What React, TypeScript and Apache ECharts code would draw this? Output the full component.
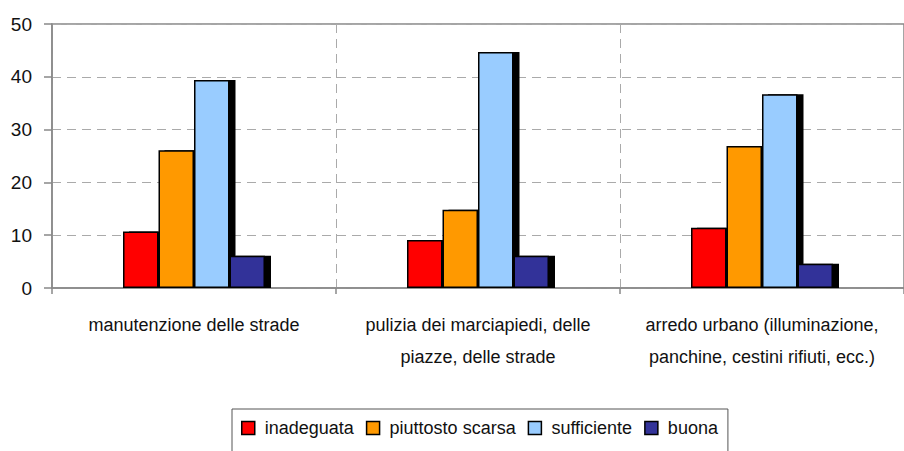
import React, { useEffect, useRef } from "react";
import * as echarts from "echarts";

const categories = [
  "manutenzione delle strade",
  "pulizia dei marciapiedi, delle\npiazze, delle strade",
  "arredo urbano (illuminazione,\npanchine, cestini rifiuti, ecc.)",
];
const seriesNames = ["inadeguata", "piuttosto scarsa", "sufficiente", "buona"];
const inadeguata = [10.7, 9.1, 11.4];
const piuttostoScarsa = [26.1, 14.8, 26.9];
const sufficiente = [39.4, 44.7, 36.7];
const buona = [6.1, 6.1, 4.6];
const seriesColors = ["#FF0000", "#FF9900", "#99CCFF", "#333399"];
const yTicks = { min: 0, max: 50, interval: 10 };

const FONT = "'Liberation Sans', Arial, sans-serif";

export default function App() {
  const ref = useRef<HTMLDivElement>(null);
  useEffect(() => {
    if (!ref.current) return;
    const chart = echarts.init(ref.current, null, { renderer: "svg" });
    const values = [inadeguata, piuttostoScarsa, sufficiente, buona];
    chart.setOption({
      animation: false,
      textStyle: { fontFamily: FONT },
      grid: {
        left: 52,
        right: -1,
        top: 24,
        bottom: 163,
        show: true,
        borderColor: "#888",
        borderWidth: 1.5,
        backgroundColor: "transparent",
      },
      legend: {
        data: seriesNames,
        left: 232,
        top: 409,
        padding: [10, 10, 16, 9],
        itemGap: 12,
        itemWidth: 13,
        itemHeight: 13,
        icon: "rect",
        borderColor: "#555",
        borderWidth: 1,
        textStyle: { fontFamily: FONT, fontSize: 18, color: "#111", padding: [0, 0, 0, 5] },
        itemStyle: { borderColor: "#000", borderWidth: 1.5 },
      },
      xAxis: {
        type: "category",
        data: categories,
        boundaryGap: true,
        axisLine: { lineStyle: { color: "#888", width: 1.5 } },
        axisTick: { show: true, length: 6, lineStyle: { color: "#888", width: 1.5 } },
        splitLine: { show: true, lineStyle: { color: "#aaa", type: [9, 6], width: 1 } },
        axisLabel: {
          interval: 0,
          margin: 21,
          fontFamily: FONT,
          fontSize: 18,
          lineHeight: 32,
          color: "#111",
          align: "center",
        },
      },
      yAxis: {
        type: "value",
        min: yTicks.min,
        max: yTicks.max,
        interval: yTicks.interval,
        axisLine: { show: true, lineStyle: { color: "#888", width: 1.5 } },
        axisTick: { show: true, length: 8, lineStyle: { color: "#888", width: 1.5 } },
        splitLine: { show: true, lineStyle: { color: "#aaa", type: [9, 6], width: 1 } },
        axisLabel: { margin: 20, fontFamily: FONT, fontSize: 19, color: "#111" },
      },
      series: seriesNames.map((name, i) => ({
        name,
        type: "bar",
        data: values[i],
        barGap: "0%",
        barCategoryGap: "50%",
        itemStyle: {
          color: seriesColors[i],
          borderColor: "#000",
          borderWidth: 1.5,
          shadowColor: "#000",
          shadowBlur: 0,
          shadowOffsetX: 6,
          shadowOffsetY: 0,
        },
        emphasis: { disabled: true },
      })),
    });
    return () => chart.dispose();
  }, []);
  return (
    <div
      ref={ref}
      style={{ position: "fixed", left: 0, top: 0, width: 904, height: 451, background: "#fff" }}
    />
  );
}
